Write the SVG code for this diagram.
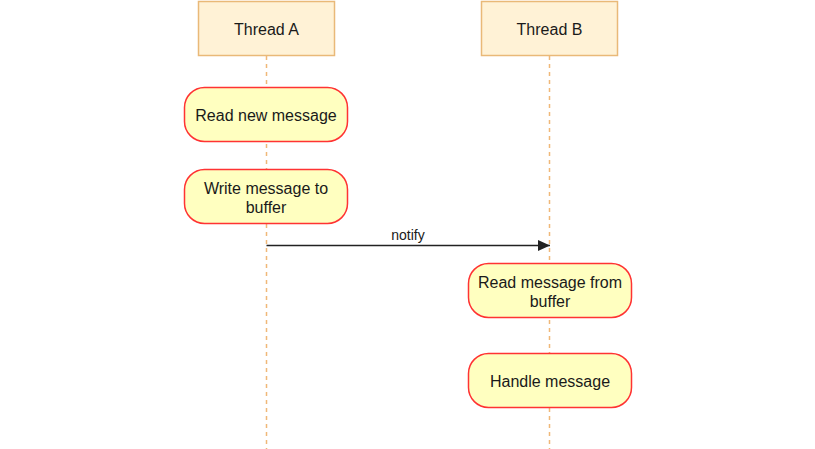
<svg xmlns="http://www.w3.org/2000/svg" width="815" height="449" viewBox="0 0 815 449">
<style>
.thread rect{fill:#fff2d6;stroke:#e9b978;stroke-width:1.5}
.life{stroke:#f0b878;stroke-width:1.5;stroke-dasharray:4 4;fill:none}
.act rect{fill:#ffffc0;stroke:#ff3333;stroke-width:1.5}
text{font-family:"Liberation Sans",Arial,sans-serif;font-size:16px;fill:#1a1a1a;text-anchor:middle}
.lbl{font-size:14px}
.msg{stroke:#222;stroke-width:1.5;fill:none}
</style>
<defs>
<marker id="ah" viewBox="0 0 12 12" refX="12" refY="6" markerWidth="12" markerHeight="12" markerUnits="userSpaceOnUse" orient="auto">
<path d="M0,0.5 L12,6 L0,11.5 Z" fill="#222"/>
</marker>
</defs>
<rect width="815" height="449" fill="#fff"/>
<g id="lifelines">
<line class="life" x1="266.5" y1="56" x2="266.5" y2="449"/>
<line class="life" x1="549.5" y1="56" x2="549.5" y2="449"/>
</g>
<g id="threadA" class="thread">
<rect x="198.5" y="1.5" width="136" height="54"/>
<text x="266.5" y="35">Thread A</text>
</g>
<g id="threadB" class="thread">
<rect x="481.5" y="1.5" width="136" height="54"/>
<text x="549.5" y="35">Thread B</text>
</g>
<g id="readNew" class="act">
<rect x="184.5" y="87.5" width="163" height="54" rx="20"/>
<text x="266" y="120.5">Read new message</text>
</g>
<g id="writeMsg" class="act">
<rect x="184.5" y="169.5" width="163" height="54" rx="20"/>
<text x="266" y="193.5">Write message to</text>
<text x="266" y="213">buffer</text>
</g>
<g id="readFrom" class="act">
<rect x="468.5" y="263.5" width="163" height="54" rx="20"/>
<text x="550" y="287.5">Read message from</text>
<text x="550" y="307">buffer</text>
</g>
<g id="handle" class="act">
<rect x="468.5" y="353.5" width="163" height="54" rx="20"/>
<text x="550" y="386.5">Handle message</text>
</g>
<g id="connectors">
<line class="msg" x1="266.5" y1="245.5" x2="550" y2="245.5" marker-end="url(#ah)"/>
<text class="lbl" x="408" y="240">notify</text>
</g>
</svg>
